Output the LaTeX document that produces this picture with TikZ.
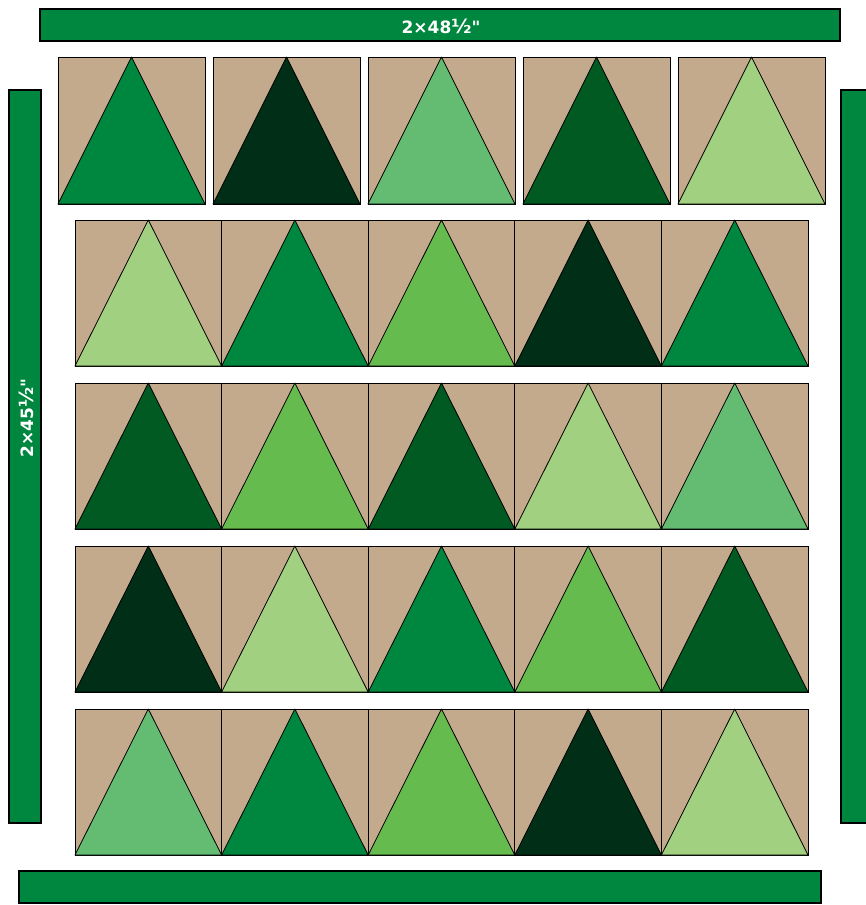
\documentclass[tikz,border=0pt]{standalone}
\usepackage{fontspec}
\newfontfamily\lblfont{DejaVu Sans}
\usepackage{tikz}
\usepackage{xcolor}
\usetikzlibrary{positioning}
\definecolor{cTan}{RGB}{196,170,141}
\definecolor{cMed}{RGB}{0,135,63}
\definecolor{cDarkest}{RGB}{0,46,22}
\definecolor{cDark}{RGB}{0,90,34}
\definecolor{cSoft}{RGB}{100,188,114}
\definecolor{cLime}{RGB}{102,187,78}
\definecolor{cPale}{RGB}{160,208,128}
\tikzset{
	block/.style ={draw=black, fill=cTan, line width=0.8pt},
	tree/.style  ={draw=black, line width=0.8pt, line join=round},
	border/.style={draw=black, fill=cMed, line width=1.3pt},
	lbl/.style   ={text=white, font=\lblfont\bfseries\fontsize{17}{17}\selectfont, inner sep=0pt},
}

\begin{document}
\begin{tikzpicture}[x=1pt, y=-1pt]
	\useasboundingbox (0,0) rectangle (866,905);
	% borders
	\draw[border] (40,9) rectangle (840,41);
	\draw[border] (19,871) rectangle (821,903);
	\draw[border] (9,90) rectangle (41,823);
	\draw[border] (841,90) rectangle (875,823);
	\node[lbl] (toplbl) at (441,26) {2×48{\fontsize{19.5}{19.5}\selectfont ½}"};
	\node[lbl, rotate=90] (leftlbl) at (26,418) {2×45{\fontsize{19.5}{19.5}\selectfont ½}"};
	% top row, loose blocks
	\foreach \c [count=\i from 0] in {cMed,cDarkest,cSoft,cDark,cPale}{
		\pgfmathsetmacro\bx{58+155*\i}
		\draw[block] (\bx,57) rectangle ++(147,147);
		\draw[tree, fill=\c] (\bx,204) -- ++(73.5,-147) -- ++(73.5,147) -- cycle;
	}
	% sewn rows
	\foreach \by/\cols in {220/{cPale,cMed,cLime,cDarkest,cMed},
	                       383/{cDark,cLime,cDark,cPale,cSoft},
	                       546/{cDarkest,cPale,cMed,cLime,cDark},
	                       709/{cSoft,cMed,cLime,cDarkest,cPale}}{
		\foreach \c [count=\i from 0] in \cols{
			\pgfmathsetmacro\bx{75+146.6*\i}
			\draw[block] (\bx,\by) rectangle ++(146.6,146);
			\draw[tree, fill=\c] (\bx,\by+146) -- ++(73.3,-146) -- ++(73.3,146) -- cycle;
		}
	}
\end{tikzpicture}
\end{document}
